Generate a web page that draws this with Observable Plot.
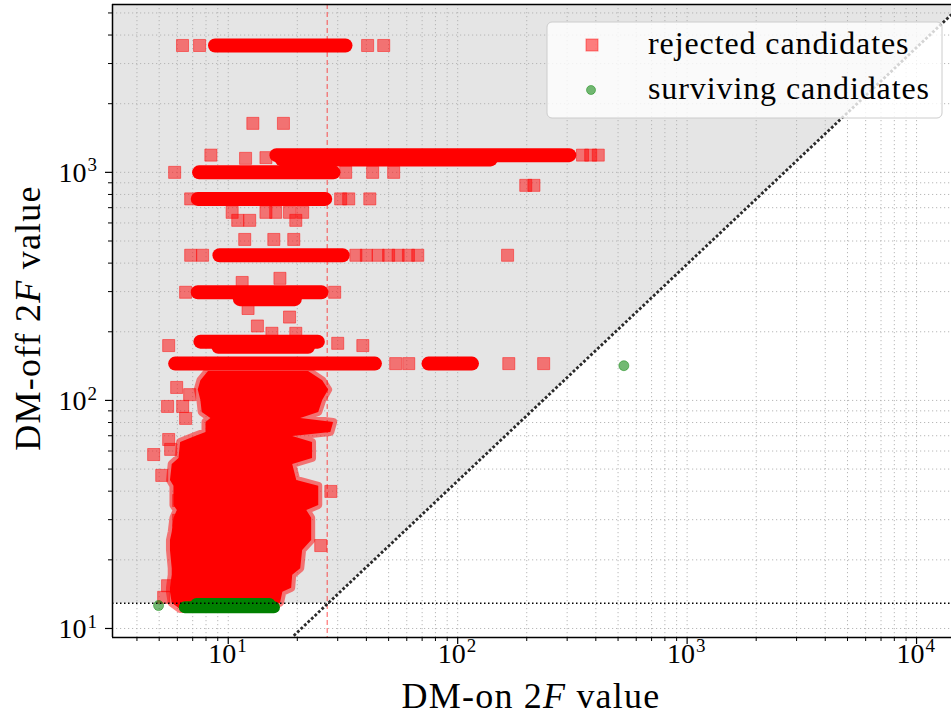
<!DOCTYPE html>
<html><head><meta charset="utf-8">
<script src="https://cdn.jsdelivr.net/npm/d3@7"></script>
<script src="https://cdn.jsdelivr.net/npm/@observablehq/plot@0.6"></script>
<style>body{margin:0;background:#fff}#chart{width:951px;height:718px}</style>
</head><body><div id="chart"></div>
<script>
// ---- axes ----
const xDomain = [3.13, 14200];
const yDomain = [9.13, 5445];
const xMajor = [10, 100, 1000, 10000];
const xMinor = [4,5,6,7,8,9,20,30,40,50,60,70,80,90,200,300,400,500,600,700,800,900,2000,3000,4000,5000,6000,7000,8000,9000];
const yMajor = [10, 100, 1000];
const yMinor = [20,30,40,50,60,70,80,90,200,300,400,500,600,700,800,900,2000,3000,4000,5000];
const tickBase = "10";
const xTickExp = ["1","2","3","4"];
const yTickExp = ["1","2","3"];

// ---- thresholds ----
const thrY = 12.9;     // DM-off 2F threshold (horizontal dotted)
const thrX = 27.0;     // DM-on 2F threshold (vertical dashed)
const diagX = [19.3, 14200];
const diagY = [9.3, 4920];
const vetoX = [3.13, 27.2, 14200];
const vetoY = [12.9, 12.9, 4920];

// ---- rejected candidates: dense rows (first / last square centre) ----
const bandY  = [3600, 1190, 1140, 1000, 765, 433, 298, 278, 181, 172, 145, 145];
const bandX1 = [8.8, 16.3, 17.2, 7.5, 7.4, 9.2, 7.4, 11.3, 7.6, 9.1, 5.9, 75];
const bandX2 = [32.6, 308, 140, 28.9, 26.6, 31.7, 25.6, 19.6, 24.7, 22.4, 43.8, 116];

// ---- rejected candidates: dense cloud outline ----
const blobY  = [134,122,111,100,88.6,83.4,80.1,72.4,69.5,65.4,55.7,52.4,44.6,42.0,34.6,32.9,30.4,26.4,24.3,22.0,18.3,17.1,15.0,14.4,12.9,12.1];
const blobX1 = [8.2,7.6,7.4,7.6,7.7,8.4,8.0,8.0,7.2,6.2,6.1,5.7,5.6,5.8,5.8,6.0,5.8,5.7,5.6,5.6,5.7,5.7,5.6,5.6,5.7,6.2];
const blobX2 = [22.4,25.8,27.4,25.8,24.8,20.7,28.8,28.0,19.1,23.3,23.3,19.1,19.9,24.8,24.8,22.0,23.1,23.1,23.1,21.1,20.7,19.1,18.9,17.3,16.9,14.1];

// ---- rejected candidates: individual points ----
const rejX = [6.32,7.50,40.5,47.6, 12.8,17.4, 8.4,11.9,14.6,350,380,410, 198,215,
  5.84,32.5,42.6,52.6, 6.86,30.9,33.5,41.4, 10.4,11.0,12.4,14.6,16.1,18.5,19.7,21.1,
  11.8,15.8,19.3, 6.86,7.73,36,40,45,50,55,61,67,165,
  11.5,16.8,12.2,18.5,13.4,15.5,19.7, 6.52,29.1, 5.5,30,38.6, 53.7,61.2,167,237,
  5.96,6.79,5.44,6.33,6.52,5.50,5.61,4.73,5.13,6.08,6.08,5.44,5.23,28.0,25.3];
const rejY = [3600,3600,3600,3600, 1640,1640, 1190,1152,1160,1190,1190,1190, 877,877,
  1000,1000,1000,1000, 765,765,765,765, 668,616,616,668,668,668,616,668,
  508,508,508, 433,433,433,433,433,433,433,433,433,433,
  329,343,253,232,212,197,197, 298,298, 174,178,174, 145,145,145,145,
  114,106,94.1,94.1,83.4,67.4,61.0,57.9,46.9,36.4,29.8,15.4,13.7,39.9,23.1];

// ---- surviving candidates ----
const survBandY = [12.4, 12.8];
const survBandX1 = [6.5, 7.3];
const survBandX2 = [15.9, 15.2];
const survX = [4.97, 530];
const survY = [12.6, 142];

const legendLabels = ["rejected candidates", "surviving candidates"];

// ---- build tables ----
const bands = bandY.map((y, i) => ({y, x1: bandX1[i], x2: bandX2[i]}));
const blob = blobY.map((y, i) => ({y, x1: blobX1[i], x2: blobX2[i]}));
const rej = rejX.map((x, i) => ({x, y: rejY[i]}));
const survBands = survBandY.map((y, i) => ({y, x1: survBandX1[i], x2: survBandX2[i]}));
const surv = survX.map((x, i) => ({x, y: survY[i]}));
const veto = vetoX.map((x, i) => ({x, y1: vetoY[i], y2: yDomain[1]}));
const diag = diagX.map((x, i) => ({x, y: diagY[i]}));

const FONT = "Liberation Serif, Times New Roman, serif";
const gridStyle = {stroke: "#b0b0b0", strokeOpacity: 1, strokeWidth: 0.9, strokeDasharray: "1.2,2.8"};

const svg = Plot.plot({
  width: 951, height: 718,
  marginLeft: 112, marginRight: 0, marginTop: 4, marginBottom: 81,
  x: {type: "log", domain: xDomain},
  y: {type: "log", domain: yDomain},
  style: {background: "white", fontFamily: FONT, color: "black"},
  marks: [
    Plot.areaY(veto, {x: "x", y1: "y1", y2: "y2", fill: "#e5e5e5"}),
    Plot.gridX({ticks: [...xMinor, ...xMajor], ...gridStyle}),
    Plot.gridY({ticks: [...yMinor, ...yMajor], ...gridStyle}),
    Plot.ruleY(bands, {y: "y", x1: "x1", x2: "x2", stroke: "red", strokeWidth: 14, strokeLinecap: "round"}),
    Plot.areaX(blob, {y: "y", x1: "x1", x2: "x2", fill: "red", stroke: "red", strokeOpacity: 0.5, strokeWidth: 8, strokeLinejoin: "round"}),
    Plot.dot(rej, {x: "x", y: "y", symbol: "square", r: 6.8, fill: "red", fillOpacity: 0.5, stroke: "red", strokeOpacity: 0.45, strokeWidth: 1}),
    Plot.ruleY(survBands, {y: "y", x1: "x1", x2: "x2", stroke: "green", strokeWidth: 12, strokeLinecap: "round"}),
    Plot.dot(surv, {x: "x", y: "y", r: 5, fill: "green", fillOpacity: 0.55, stroke: "green", strokeOpacity: 0.45, strokeWidth: 1}),
    Plot.ruleY([thrY], {stroke: "black", strokeWidth: 1.5, strokeDasharray: "1.5,2.5"}),
    Plot.ruleX([thrX], {stroke: "red", strokeOpacity: 0.55, strokeWidth: 1.2, strokeDasharray: "5,3"}),
    Plot.line(diag, {x: "x", y: "y", stroke: "#2a2a2a", strokeWidth: 2.8, strokeDasharray: "2.8,2", strokeLinecap: "butt", clip: true}),
    Plot.axisX({ticks: xMajor, tickSize: 7, tickFormat: () => "", label: null, strokeWidth: 1.2}),
    Plot.axisX({ticks: xMinor, tickSize: 4, tickFormat: () => "", label: null, strokeWidth: 1}),
    Plot.axisY({ticks: yMajor, tickSize: 7, tickFormat: () => "", label: null, strokeWidth: 1.2}),
    Plot.axisY({ticks: yMinor, tickSize: 4, tickFormat: () => "", label: null, strokeWidth: 1}),
    Plot.ruleX([xDomain[0]], {stroke: "black", strokeWidth: 1.5}),
    Plot.ruleY([yDomain[0], yDomain[1]], {stroke: "black", strokeWidth: 1.5}),
    Plot.text(xMajor, {x: d => d, frameAnchor: "bottom", text: () => tickBase, dx: -6, dy: 25, fontSize: 28, fill: "black"}),
    Plot.text(xMajor, {x: d => d, frameAnchor: "bottom", text: (d, i) => xTickExp[i], textAnchor: "start", dx: 9, dy: 14, fontSize: 19, fill: "black"}),
    Plot.text(yMajor, {y: d => d, frameAnchor: "left", text: () => tickBase, textAnchor: "end", dx: -26, dy: 1, fontSize: 28, fill: "black"}),
    Plot.text(yMajor, {y: d => d, frameAnchor: "left", text: (d, i) => yTickExp[i], textAnchor: "start", dx: -25, dy: -7, fontSize: 19, fill: "black"})
  ]
});

const s = d3.select(svg);
function label(sel, pre, ital, post) {
  sel.append("tspan").text(pre);
  sel.append("tspan").attr("font-style", "italic").text(ital);
  sel.append("tspan").text(post);
}
const xl = s.append("text").attr("x", 531).attr("y", 708).attr("text-anchor", "middle")
  .attr("font-family", FONT).attr("font-size", 36).attr("letter-spacing", 1.2).attr("fill", "black")
  .style("white-space", "pre");
label(xl, "DM-on 2", "F", " value");
const yl = s.append("text").attr("transform", "translate(40,318) rotate(-90)").attr("text-anchor", "middle")
  .attr("font-family", FONT).attr("font-size", 36).attr("letter-spacing", 1.2).attr("fill", "black")
  .style("white-space", "pre");
label(yl, "DM-off 2", "F", " value");

// legend
const lg = s.append("g");
lg.append("rect").attr("x", 547).attr("y", 22).attr("width", 395).attr("height", 96).attr("rx", 5)
  .attr("fill", "white").attr("fill-opacity", 0.8).attr("stroke", "#cccccc").attr("stroke-width", 1);
lg.append("rect").attr("x", 586).attr("y", 39).attr("width", 12).attr("height", 12)
  .attr("fill", "red").attr("fill-opacity", 0.5).attr("stroke", "red").attr("stroke-opacity", 0.45);
lg.append("circle").attr("cx", 591).attr("cy", 90).attr("r", 4.5)
  .attr("fill", "green").attr("fill-opacity", 0.55).attr("stroke", "green").attr("stroke-opacity", 0.45);
legendLabels.forEach((t, i) => {
  lg.append("text").attr("x", 648).attr("y", 54 + 45 * i).attr("text-anchor", "start")
    .attr("font-family", FONT).attr("font-size", 32)
    .attr("letter-spacing", 0.9).attr("fill", "black").text(t);
});

document.getElementById("chart").appendChild(svg);
</script></body></html>
